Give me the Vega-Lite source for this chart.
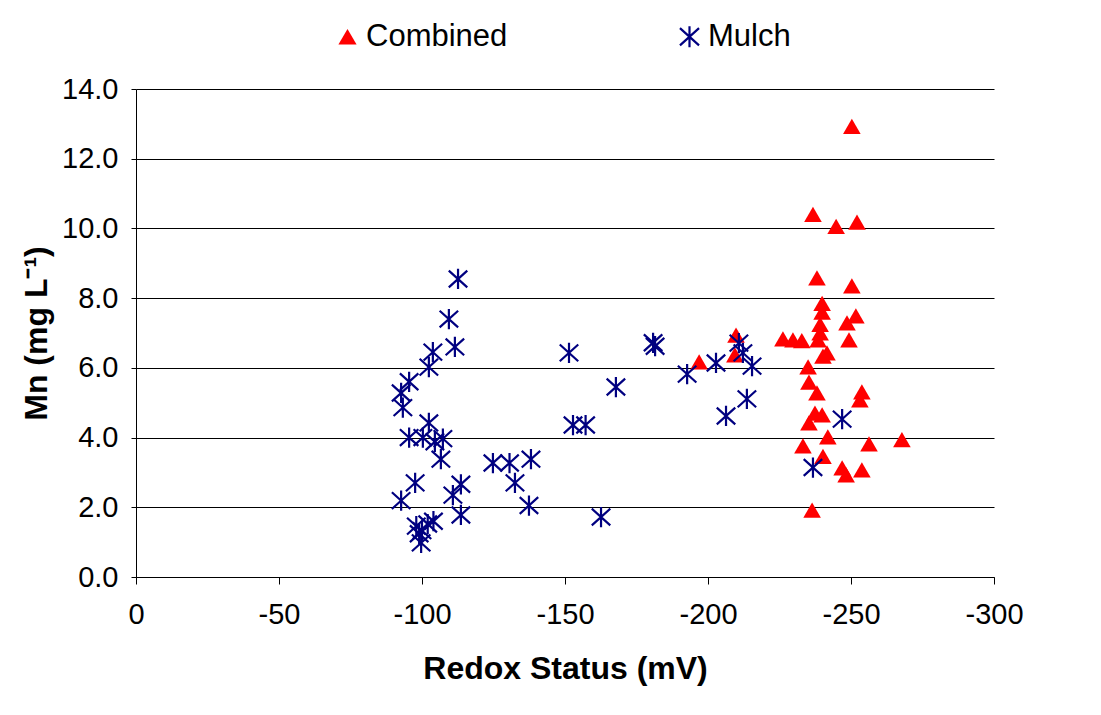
{
  "$schema": "https://vega.github.io/schema/vega-lite/v6.json",
  "width": 858,
  "height": 488,
  "autosize": {"type": "none"},
  "padding": {"left": 136, "top": 89, "right": 107, "bottom": 138},
  "background": "white",
  "config": {
    "font": "Liberation Sans",
    "view": {"stroke": null},
    "axis": {"labelFont": "Liberation Sans", "titleFont": "Liberation Sans", "labelColor": "black", "titleColor": "black"}
  },
  "datasets": {
    "pts": [
      {"series": "Combined", "redox": -250.3, "mn": 12.93},
      {"series": "Combined", "redox": -236.7, "mn": 10.40},
      {"series": "Combined", "redox": -244.8, "mn": 10.06},
      {"series": "Combined", "redox": -252.1, "mn": 10.18},
      {"series": "Combined", "redox": -238.1, "mn": 8.58},
      {"series": "Combined", "redox": -250.3, "mn": 8.35},
      {"series": "Combined", "redox": -239.9, "mn": 7.85},
      {"series": "Combined", "redox": -239.9, "mn": 7.60},
      {"series": "Combined", "redox": -251.7, "mn": 7.49},
      {"series": "Combined", "redox": -248.6, "mn": 7.29},
      {"series": "Combined", "redox": -239.2, "mn": 7.25},
      {"series": "Combined", "redox": -239.2, "mn": 7.00},
      {"series": "Combined", "redox": -238.5, "mn": 6.80},
      {"series": "Combined", "redox": -249.3, "mn": 6.80},
      {"series": "Combined", "redox": -226.2, "mn": 6.83},
      {"series": "Combined", "redox": -229.7, "mn": 6.80},
      {"series": "Combined", "redox": -232.8, "mn": 6.78},
      {"series": "Combined", "redox": -209.8, "mn": 6.94},
      {"series": "Combined", "redox": -209.4, "mn": 6.37},
      {"series": "Combined", "redox": -196.9, "mn": 6.17},
      {"series": "Combined", "redox": -241.6, "mn": 6.43},
      {"series": "Combined", "redox": -240.2, "mn": 6.34},
      {"series": "Combined", "redox": -235.0, "mn": 6.03},
      {"series": "Combined", "redox": -235.3, "mn": 5.59},
      {"series": "Combined", "redox": -238.1, "mn": 5.28},
      {"series": "Combined", "redox": -253.8, "mn": 5.31},
      {"series": "Combined", "redox": -253.1, "mn": 5.08},
      {"series": "Combined", "redox": -237.4, "mn": 4.70},
      {"series": "Combined", "redox": -239.9, "mn": 4.65},
      {"series": "Combined", "redox": -235.3, "mn": 4.42},
      {"series": "Combined", "redox": -241.9, "mn": 4.02},
      {"series": "Combined", "redox": -233.2, "mn": 3.76},
      {"series": "Combined", "redox": -256.3, "mn": 3.82},
      {"series": "Combined", "redox": -267.8, "mn": 3.94},
      {"series": "Combined", "redox": -240.2, "mn": 3.46},
      {"series": "Combined", "redox": -246.9, "mn": 3.13},
      {"series": "Combined", "redox": -248.3, "mn": 2.93},
      {"series": "Combined", "redox": -253.8, "mn": 3.07},
      {"series": "Combined", "redox": -236.4, "mn": 1.92},
      {"series": "Mulch", "redox": -112.6, "mn": 8.55},
      {"series": "Mulch", "redox": -109.4, "mn": 7.40},
      {"series": "Mulch", "redox": -111.5, "mn": 6.60},
      {"series": "Mulch", "redox": -103.8, "mn": 6.45},
      {"series": "Mulch", "redox": -102.4, "mn": 6.02},
      {"series": "Mulch", "redox": -151.4, "mn": 6.43},
      {"series": "Mulch", "redox": -95.5, "mn": 5.60},
      {"series": "Mulch", "redox": -92.7, "mn": 5.28},
      {"series": "Mulch", "redox": -93.3, "mn": 4.86},
      {"series": "Mulch", "redox": -102.4, "mn": 4.42},
      {"series": "Mulch", "redox": -95.5, "mn": 4.00},
      {"series": "Mulch", "redox": -100.3, "mn": 4.00},
      {"series": "Mulch", "redox": -104.5, "mn": 3.88},
      {"series": "Mulch", "redox": -107.3, "mn": 3.97},
      {"series": "Mulch", "redox": -106.6, "mn": 3.38},
      {"series": "Mulch", "redox": -124.8, "mn": 3.27},
      {"series": "Mulch", "redox": -130.6, "mn": 3.27},
      {"series": "Mulch", "redox": -138.1, "mn": 3.38},
      {"series": "Mulch", "redox": -132.5, "mn": 2.70},
      {"series": "Mulch", "redox": -97.6, "mn": 2.70},
      {"series": "Mulch", "redox": -92.7, "mn": 2.19},
      {"series": "Mulch", "redox": -110.8, "mn": 2.35},
      {"series": "Mulch", "redox": -113.6, "mn": 2.66},
      {"series": "Mulch", "redox": -113.6, "mn": 1.78},
      {"series": "Mulch", "redox": -137.4, "mn": 2.05},
      {"series": "Mulch", "redox": -152.8, "mn": 4.36},
      {"series": "Mulch", "redox": -157.2, "mn": 4.36},
      {"series": "Mulch", "redox": -167.8, "mn": 5.45},
      {"series": "Mulch", "redox": -180.8, "mn": 6.72},
      {"series": "Mulch", "redox": -181.5, "mn": 6.62},
      {"series": "Mulch", "redox": -162.6, "mn": 1.72},
      {"series": "Mulch", "redox": -192.7, "mn": 5.82},
      {"series": "Mulch", "redox": -202.8, "mn": 6.14},
      {"series": "Mulch", "redox": -210.8, "mn": 6.71},
      {"series": "Mulch", "redox": -212.2, "mn": 6.43},
      {"series": "Mulch", "redox": -215.4, "mn": 6.05},
      {"series": "Mulch", "redox": -213.6, "mn": 5.11},
      {"series": "Mulch", "redox": -206.3, "mn": 4.62},
      {"series": "Mulch", "redox": -246.9, "mn": 4.53},
      {"series": "Mulch", "redox": -236.7, "mn": 3.14},
      {"series": "Mulch", "redox": -98.0, "mn": 1.46},
      {"series": "Mulch", "redox": -100.0, "mn": 1.33},
      {"series": "Mulch", "redox": -102.0, "mn": 1.52},
      {"series": "Mulch", "redox": -104.0, "mn": 1.60},
      {"series": "Mulch", "redox": -99.7, "mn": 0.98},
      {"series": "Mulch", "redox": -99.0, "mn": 1.24}
    ]
  },
  "data": {"name": "pts"},
  "mark": {"type": "point", "filled": true, "size": 310, "strokeWidth": 2.2, "opacity": 1},
  "encoding": {
    "x": {
      "field": "redox", "type": "quantitative",
      "scale": {"domain": [0, -300], "nice": false, "zero": false},
      "axis": {
        "title": "Redox Status (mV)",
        "values": [0, -50, -100, -150, -200, -250, -300],
        "labelExpr": "'' + datum.value",
        "labelFlush": false, "labelOverlap": false,
        "grid": false,
        "domainColor": "black", "domainWidth": 1,
        "tickColor": "black", "tickSize": 7, "tickWidth": 1,
        "labelFontSize": 29, "labelPadding": 16,
        "titleFontSize": 32, "titleFontWeight": "bold", "titlePadding": 24
      }
    },
    "y": {
      "field": "mn", "type": "quantitative",
      "scale": {"domain": [0, 14], "nice": false},
      "axis": {
        "title": "Mn (mg L⁻¹)",
        "values": [0, 2, 4, 6, 8, 10, 12, 14],
        "format": ".1f",
        "labelFlush": false,
        "grid": true, "gridColor": "black", "gridWidth": 1, "gridOpacity": 1,
        "domainColor": "black", "domainWidth": 1,
        "tickColor": "black", "tickSize": 5, "tickWidth": 1,
        "labelFontSize": 29, "labelPadding": 13,
        "titleFontSize": 32, "titleFontWeight": "bold", "titlePadding": 8
      }
    },
    "shape": {
      "field": "series", "type": "nominal",
      "scale": {"domain": ["Combined", "Mulch"], "range": ["triangle-up", "M-1.05,-0.95L1.05,0.95M-1.05,0.95L1.05,-0.95M0,-1.15L0,1.15"]},
      "legend": {
        "title": null, "orient": "none", "direction": "horizontal",
        "legendX": 196, "legendY": -68,
        "labelFontSize": 31, "labelColor": "black", "labelFont": "Liberation Sans",
        "symbolSize": 330, "symbolStrokeWidth": 2.2, "labelOffset": 3,
        "columnPadding": 166, "symbolOpacity": 1
      }
    },
    "fill": {
      "field": "series", "type": "nominal",
      "scale": {"domain": ["Combined", "Mulch"], "range": ["#FF0000", "transparent"]},
      "legend": {
        "title": null, "orient": "none", "direction": "horizontal",
        "legendX": 196, "legendY": -68,
        "labelFontSize": 31, "labelColor": "black", "labelFont": "Liberation Sans",
        "symbolSize": 330, "symbolStrokeWidth": 2.2, "labelOffset": 3,
        "columnPadding": 166, "symbolOpacity": 1
      }
    },
    "stroke": {
      "field": "series", "type": "nominal",
      "scale": {"domain": ["Combined", "Mulch"], "range": ["transparent", "#000080"]},
      "legend": {
        "title": null, "orient": "none", "direction": "horizontal",
        "legendX": 196, "legendY": -68,
        "labelFontSize": 31, "labelColor": "black", "labelFont": "Liberation Sans",
        "symbolSize": 330, "symbolStrokeWidth": 2.2, "labelOffset": 3,
        "columnPadding": 166, "symbolOpacity": 1
      }
    }
  }
}
